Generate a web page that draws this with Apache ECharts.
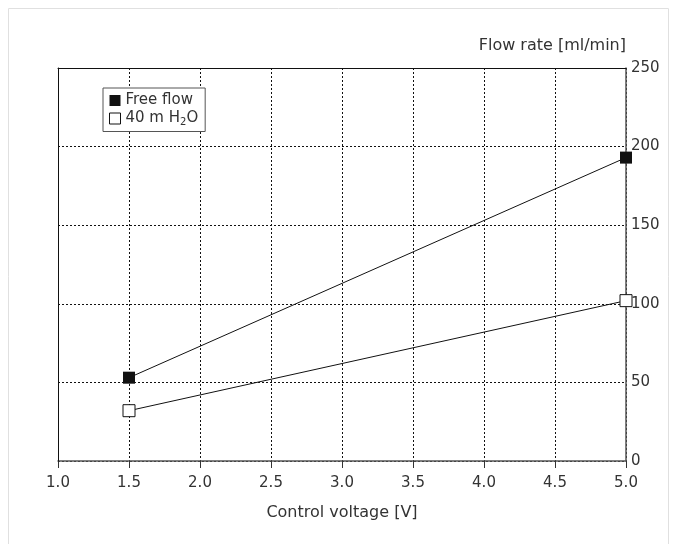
<!DOCTYPE html>
<html><head><meta charset="utf-8">
<script src="https://cdn.jsdelivr.net/npm/echarts@6/dist/echarts.min.js"></script>
<style>html,body{margin:0;padding:0;background:#fff}#c{width:675px;height:544px}</style>
</head><body><div id="c"></div>
<script>
const voltages = [1.5, 5.0];
const freeFlow = [53, 193];
const h2o40 = [32, 102];
const xTicks = [1.0, 1.5, 2.0, 2.5, 3.0, 3.5, 4.0, 4.5, 5.0];
const yTicks = [0, 50, 100, 150, 200, 250];
const seriesNames = ['Free flow', '40 m H2O'];

const chart = echarts.init(document.getElementById('c'), null, {renderer: 'canvas'});
const font = '"DejaVu Sans", sans-serif';
const fs = 15;
const nfs = 16;
const txt = '#333';
function frameAxis(pos) {
  return {type: 'value', min: 0, max: 1, position: pos, z: 3, name: '',
    axisLine: {show: true, onZero: false, lineStyle: {color: '#111', width: 1}},
    axisTick: {show: false}, axisLabel: {show: false}, splitLine: {show: false}};
}
chart.setOption({
  animation: false,
  textStyle: {fontFamily: font},
  graphic: [{type: 'rect', shape: {x: 8.5, y: 8.5, width: 660, height: 545}, style: {fill: 'none', stroke: '#e0e0e0', lineWidth: 1}, silent: true}],
  grid: {left: 58, right: 49, top: 68, bottom: 83, show: false, containLabel: false, outerBoundsMode: 'none'},
  legend: {
    left: 103, top: 88, orient: 'vertical', itemGap: 3, itemWidth: 11, itemHeight: 11,
    padding: [5, 7, 4, 6], borderColor: '#555', borderWidth: 1, backgroundColor: '#fff',
    textStyle: {fontSize: fs, color: txt, fontFamily: font, padding: [0, 0, 0, 0],
      rich: {sub: {fontSize: 10, verticalAlign: 'bottom', padding: [8, 0, 0, 0], color: txt, fontFamily: font}, n: {fontSize: fs, color: txt, fontFamily: font}}},
    formatter: function (name) { return name === seriesNames[1] ? '{n|40 m H}{sub|2}{n|O}' : name; },
    data: [
      {name: seriesNames[0], icon: 'rect', itemStyle: {color: '#111', borderWidth: 0}},
      {name: seriesNames[1], icon: 'rect', itemStyle: {color: '#fff', borderColor: '#111', borderWidth: 1}}
    ]
  },
  xAxis: [{
    type: 'value', min: 1, max: 5, interval: 0.5, position: 'bottom',
    name: 'Control voltage [V]', nameLocation: 'middle', nameGap: 44,
    nameTextStyle: {fontSize: nfs, color: txt, fontFamily: font},
    axisLine: {show: true, onZero: false, lineStyle: {color: '#555', width: 1.5}},
    axisTick: {show: true, length: 7, lineStyle: {color: '#333'}},
    axisLabel: {fontSize: fs, color: txt, margin: 15, formatter: v => v.toFixed(1)},
    splitLine: {show: true, lineStyle: {type: [2, 2], color: '#111', width: 1}},
    z: 2
  }, frameAxis('top')],
  yAxis: [{
    type: 'value', min: 0, max: 250, interval: 50, position: 'right',
    name: 'Flow rate [ml/min]', nameLocation: 'end', nameGap: 14,
    nameTextStyle: {fontSize: nfs, color: txt, align: 'right', fontFamily: font},
    axisLine: {show: true, onZero: false, lineStyle: {color: '#555', width: 1.5}},
    axisTick: {show: false},
    axisLabel: {fontSize: fs, color: txt, margin: 5, formatter: v => String(v)},
    splitLine: {show: true, lineStyle: {type: [2, 2], color: '#111', width: 1}},
    z: 2
  }, frameAxis('left')],
  series: [
    {name: seriesNames[0], type: 'line', data: voltages.map((v, i) => [v, freeFlow[i]]),
     symbol: 'rect', symbolSize: 12, lineStyle: {color: '#111', width: 1},
     itemStyle: {color: '#111', borderWidth: 0}, z: 4},
    {name: seriesNames[1], type: 'line', data: voltages.map((v, i) => [v, h2o40[i]]),
     symbol: 'rect', symbolSize: 12, showAllSymbol: true, lineStyle: {color: '#111', width: 1},
     itemStyle: {color: '#fff', borderColor: '#111', borderWidth: 1}, z: 4}
  ]
});
</script></body></html>
